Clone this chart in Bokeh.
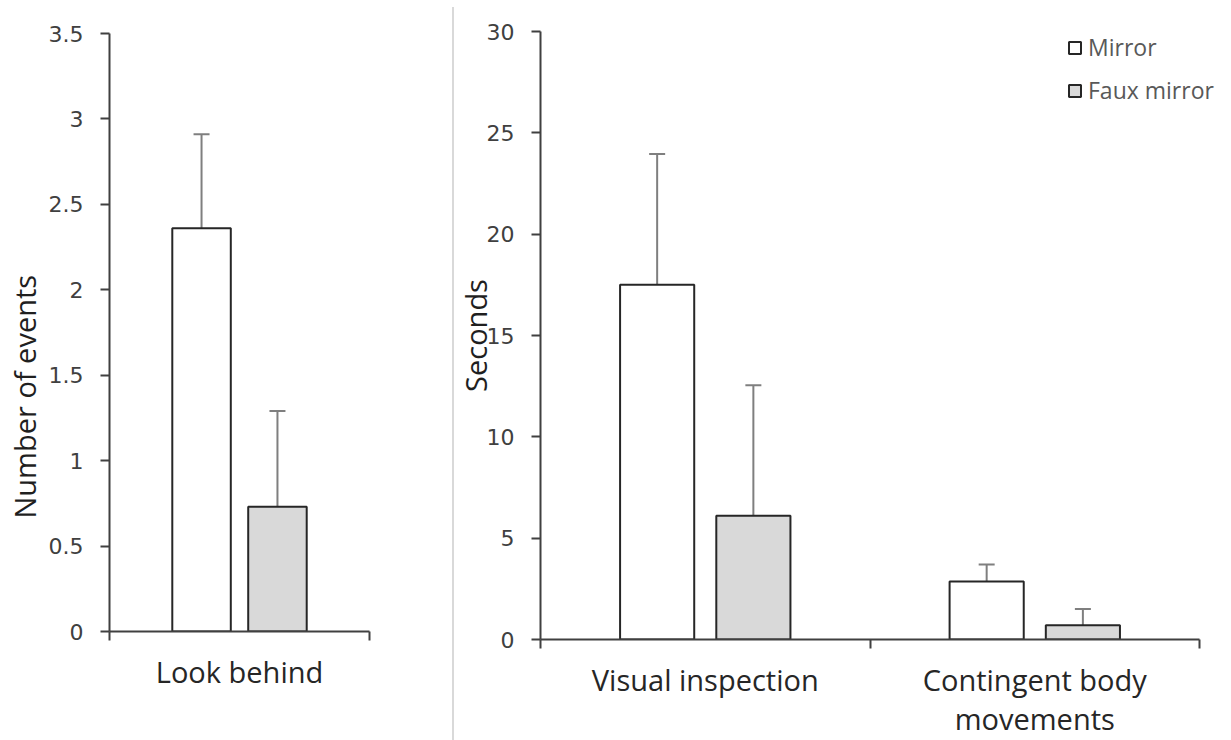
import math
from bokeh.plotting import figure
from bokeh.models import (Range1d, FixedTicker, ColumnDataSource, Whisker, TeeHead,
                          Title, Div, Legend)
from bokeh.layouts import row, column
from bokeh.embed import file_html
from bokeh.resources import INLINE

# ---------------- data ----------------
series_names = ["Mirror", "Faux mirror"]

left_categories = ["Look behind"]
left_mirror = [2.36]
left_mirror_err = [0.55]
left_faux = [0.73]
left_faux_err = [0.56]
left_ylabel = "Number of events"
left_yticks = [0, 0.5, 1, 1.5, 2, 2.5, 3, 3.5]
left_ytick_labels = ["0", "0.5", "1", "1.5", "2", "2.5", "3", "3.5"]

right_categories = ["Visual inspection", "Contingent body\nmovements"]
right_mirror = [17.5, 2.86]
right_mirror_err = [6.45, 0.84]
right_faux = [6.1, 0.70]
right_faux_err = [6.45, 0.81]
right_ylabel = "Seconds"
right_yticks = [0, 5, 10, 15, 20, 25, 30]
right_ytick_labels = ["0", "5", "10", "15", "20", "25", "30"]

# ---------------- style ----------------
FILL = ["#ffffff", "#d9d9d9"]
BAR_LINE = "#262626"
ERR = "#7f7f7f"
AXIS = "#404040"
TICK_FONT = "DejaVu Sans"
LABEL_FONT = "Open Sans"
H = 740


def make_panel(categories, mirror, mirror_err, faux, faux_err, yticks, yticklabels,
               width, borders, x_pad=0.0):
    n = len(categories)
    bl, br, bt, bb = borders
    p = figure(width=width, height=H, x_range=Range1d(0, n + x_pad),
               y_range=Range1d(yticks[0], yticks[-1]),
               output_backend="svg", toolbar_location=None,
               min_border_left=bl, min_border_right=br, min_border_top=bt,
               min_border_bottom=bb)
    p.outline_line_color = None
    p.grid.visible = False
    p.background_fill_color = "white"

    centers = [i + 0.5 for i in range(n)]
    offsets = [-0.146, 0.146]
    renderers = []
    for k, (vals, errs) in enumerate([(mirror, mirror_err), (faux, faux_err)]):
        xs = [c + offsets[k] for c in centers]
        src = ColumnDataSource(dict(x=xs, top=vals,
                                    upper=[v + e for v, e in zip(vals, errs)]))
        wk = Whisker(base="x", lower="top", upper="upper", source=src,
                     dimension="height", line_color=ERR, line_width=2,
                     upper_head=TeeHead(size=16, line_color=ERR, line_width=2),
                     lower_head=None)
        p.add_layout(wk)
        r = p.vbar(x="x", top="top", bottom=0, width=0.225, source=src,
                   fill_color=FILL[k], line_color=BAR_LINE, line_width=2)
        renderers.append(r)

    xa = p.xaxis[0]
    xa.ticker = FixedTicker(ticks=centers, minor_ticks=list(range(n + 1)))
    xa.bounds = (0, n)
    xa.major_label_overrides = {c: cat for c, cat in zip(centers, categories)}
    xa.major_tick_line_color = None
    xa.major_tick_in = 0
    xa.major_tick_out = 9
    xa.minor_tick_in = 0
    xa.minor_tick_out = 9
    xa.minor_tick_line_color = AXIS
    xa.minor_tick_line_width = 2
    xa.axis_line_color = AXIS
    xa.axis_line_width = 2
    xa.major_label_text_font = LABEL_FONT
    xa.major_label_text_font_size = "29px"
    xa.major_label_text_color = "#262626"
    xa.major_label_text_line_height = 1.0
    xa.major_label_standoff = 11

    ya = p.yaxis[0]
    ya.ticker = FixedTicker(ticks=yticks)
    ya.major_label_overrides = dict(zip(yticks, yticklabels))
    ya.major_tick_in = 0
    ya.major_tick_out = 9
    ya.major_tick_line_color = AXIS
    ya.major_tick_line_width = 2
    ya.minor_tick_line_color = None
    ya.axis_line_color = AXIS
    ya.axis_line_width = 2
    ya.major_label_text_font = TICK_FONT
    ya.major_label_text_font_size = "22px"
    ya.major_label_text_color = AXIS
    ya.major_label_standoff = 17
    return p, renderers


left, _ = make_panel(left_categories, left_mirror, left_mirror_err, left_faux,
                     left_faux_err, left_yticks, left_ytick_labels, width=452,
                     borders=(109, 83, 33, 109))
left.add_layout(Title(text=left_ylabel, align="left", offset=113, standoff=4,
                      text_font=LABEL_FONT, text_font_size="29px",
                      text_font_style="normal", text_color="#1f1f1f"), "left")

# right panel: frame extends a little past the x axis so the legend is not clipped
right, rr = make_panel(right_categories, right_mirror, right_mirror_err, right_faux,
                       right_faux_err, right_yticks, right_ytick_labels, width=783,
                       borders=(92, 3, 31, 101), x_pad=2 * 23 / 660)
right.margin = (0, 0, 0, -6)
right.border_fill_alpha = 0
ra = right.yaxis[0]
ra.axis_label = right_ylabel
ra.axis_label_text_font = LABEL_FONT
ra.axis_label_text_font_size = "29px"
ra.axis_label_text_font_style = "normal"
ra.axis_label_text_color = "#1f1f1f"
ra.axis_label_text_line_height = 1.0
ra.axis_label_standoff = -11

leg = Legend(items=[(nm, [r]) for nm, r in zip(series_names, rr)],
             location=(527, 533), glyph_width=15, glyph_height=15,
             label_text_font=LABEL_FONT, label_text_font_size="23px",
             label_text_color="#595959", label_standoff=6, padding=0,
             margin=0, spacing=11, label_height=28,
             border_line_color=None, background_fill_alpha=0)
right.add_layout(leg)

divider = Div(width=2, height=H - 7, margin=(7, 0, 0, 0),
              styles={"background-color": "#d9d9d9"})

layout = row(column(left), divider, column(right))

open("out.html", "w").write(file_html(layout, INLINE))
